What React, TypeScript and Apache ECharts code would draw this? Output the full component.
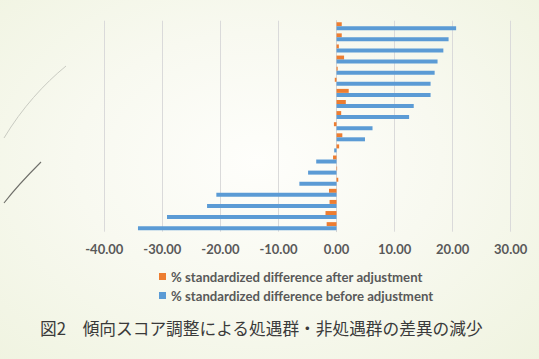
import React, { useEffect, useRef } from "react";
import * as echarts from "echarts";

// Covariates, listed from top to bottom of the chart
const categories: string[] = [
  "1", "2", "3", "4", "5", "6", "7", "8", "9", "10",
  "11", "12", "13", "14", "15", "16", "17", "18", "19",
];

// % standardized difference after propensity score adjustment
const afterAdjustment: number[] = [
  0.9, 0.9, 0.4, 1.3, 0.2, -0.3, 2.1, 1.6, 0.8, -0.45,
  1.0, 0.45, -0.6, 0.1, 0.3, -1.3, -1.2, -1.9, -1.7,
];

// % standardized difference before adjustment
const beforeAdjustment: number[] = [
  20.6, 19.3, 18.4, 17.4, 16.9, 16.2, 16.2, 13.3, 12.5, 6.2,
  4.9, -0.4, -3.5, -4.9, -6.4, -20.7, -22.3, -29.2, -34.2,
];

const xTicks = { min: -40, max: 30, interval: 10 };

const seriesNames = [
  "% standardized difference after adjustment",
  "% standardized difference before adjustment",
];

const caption = "図2　傾向スコア調整による処遇群・非処遇群の差異の減少";

export default function App() {
  const ref = useRef<HTMLDivElement>(null);

  useEffect(() => {
    document.body.style.margin = "0";
    if (!ref.current) return;
    const chart = echarts.init(ref.current, undefined, { renderer: "svg" });
    chart.setOption({
      animation: false,
      textStyle: { fontFamily: "Lato, 'Noto Sans', sans-serif" },
      grid: { left: 104.3, right: 28.3, top: 20.7, bottom: 127.3 },
      xAxis: {
        type: "value",
        min: xTicks.min,
        max: xTicks.max,
        interval: xTicks.interval,
        axisLine: { show: false },
        axisTick: { show: false },
        splitLine: { lineStyle: { color: "#dadada", width: 1 } },
        axisLabel: {
          formatter: (v: number) => v.toFixed(2),
          color: "#595959",
          fontWeight: "bold",
          fontSize: 13,
          margin: 11,
        },
      },
      yAxis: {
        type: "category",
        data: categories,
        inverse: true,
        axisLine: { show: true, onZero: true, lineStyle: { color: "#d4d4d4" } },
        axisTick: { show: false },
        axisLabel: { show: false },
        splitLine: { show: false },
      },
      legend: {
        orient: "vertical",
        left: 154,
        top: 265,
        icon: "rect",
        itemWidth: 7,
        itemHeight: 7,
        itemGap: 6,
        textStyle: { color: "#595959", fontWeight: "bold", fontSize: 13.2 },
        data: seriesNames,
      },
      series: [
        {
          name: seriesNames[0],
          type: "bar",
          data: afterAdjustment,
          barWidth: 4,
          barGap: "0%",
          itemStyle: { color: "#ED7D31" },
        },
        {
          name: seriesNames[1],
          type: "bar",
          data: beforeAdjustment,
          barWidth: 4,
          barGap: "0%",
          itemStyle: { color: "#5B9BD5" },
        },
      ],
      graphic: [
        {
          type: "bezierCurve",
          shape: { x1: 4, y1: 138, x2: 66, y2: 66, cpx1: 22, cpy1: 108, cpx2: 44, cpy2: 84 },
          style: { stroke: "#c9cbc2", lineWidth: 1, fill: null },
        },
        {
          type: "bezierCurve",
          shape: { x1: 4, y1: 203, x2: 41, y2: 162, cpx1: 14, cpy1: 190, cpx2: 28, cpy2: 175 },
          style: { stroke: "#6f6f6a", lineWidth: 1.1, fill: null },
        },
        {
          type: "text",
          left: 40,
          top: 320,
          style: {
            text: caption,
            fill: "#3a3a3a",
            fontSize: 16.7,
            fontFamily: "'Noto Sans CJK JP', sans-serif",
          },
        },
      ],
    });
    return () => chart.dispose();
  }, []);

  return (
    <div
      ref={ref}
      style={{
        position: "absolute",
        left: 0,
        top: 0,
        width: 539,
        height: 359,
        background:
          "radial-gradient(ellipse 75% 80% at 48% 45%, #fefefb 0%, #f8f9f0 45%, #eff3df 100%)",
      }}
    />
  );
}
